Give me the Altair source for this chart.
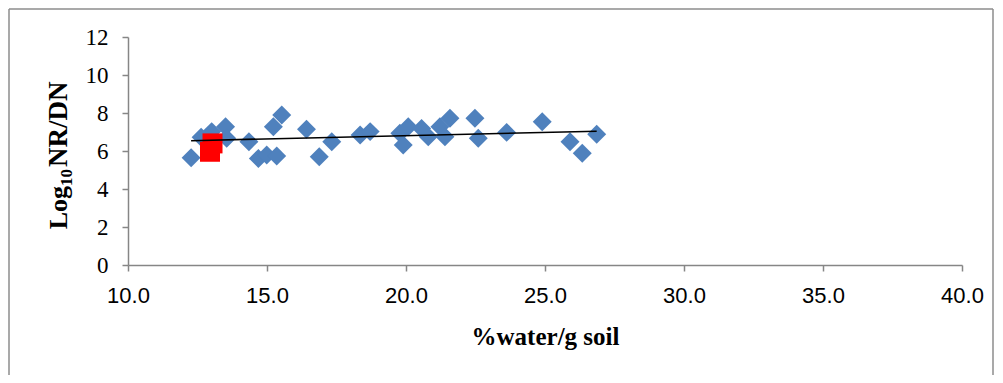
import altair as alt
import pandas as pd

# Blue series (diamonds)
blue_x = [12.27, 12.63, 13.01, 13.51, 13.55, 14.35, 14.69, 14.99, 15.23, 15.35, 15.53,
          16.42, 16.88, 17.33, 18.35, 18.71, 19.78, 19.90, 20.08, 20.56, 20.80, 21.22,
          21.40, 21.58, 22.48, 22.60, 23.62, 24.90, 25.90, 26.34, 26.86]
blue_y = [5.65, 6.72, 7.02, 7.28, 6.67, 6.49, 5.61, 5.79, 7.28, 5.74, 7.89,
          7.14, 5.70, 6.49, 6.84, 7.02, 6.93, 6.32, 7.28, 7.19, 6.75, 7.28,
          6.75, 7.72, 7.72, 6.67, 6.98, 7.54, 6.49, 5.88, 6.88]
# Red series (squares)
red_x = [13.04, 12.95]
red_y = [6.40, 5.96]

x_ticks = [10, 15, 20, 25, 30, 35, 40]
y_ticks = [0, 2, 4, 6, 8, 10, 12]

blue = pd.DataFrame({"x": blue_x, "y": blue_y})
red = pd.DataFrame({"x": red_x, "y": red_y})
one = pd.DataFrame({"k": [0]})

W, H = 834, 228
PL, PT, PR, PB = 120, 29, 33, 110
BOTTOM = H + PB  # bottom edge of the svg, in plot coordinates

xs = alt.Scale(domain=[10, 40], nice=False, zero=False)
ys = alt.Scale(domain=[0, 12], nice=False, zero=True)

x_axis = alt.Axis(values=x_ticks, format=".1f", grid=False, title="%water/g soil",
                  labelFont="Liberation Sans", labelFontSize=22, labelColor="#000000",
                  labelPadding=14, labelFlush=False, labelOverlap=False,
                  titleFont="Liberation Serif", titleFontSize=25,
                  titleFontWeight="bold", titleColor="#000000", titlePadding=18)
y_axis = alt.Axis(values=y_ticks, format="d", grid=False, title=None,
                  labelFont="Liberation Serif", labelFontSize=23, labelColor="#000000",
                  labelPadding=14, labelFlush=False, labelOverlap=False,
                  labelSeparation=0, labelBound=False)

bcol = "#8c8c8c"
b_left = alt.Chart(one).mark_rule(color=bcol, strokeWidth=1.5).encode(
    x=alt.value(-119), y=alt.value(-28), y2=alt.value(BOTTOM))
b_top = alt.Chart(one).mark_rule(color=bcol, strokeWidth=1.5).encode(
    x=alt.value(-119), x2=alt.value(W + PR - 2), y=alt.value(-28))
b_right = alt.Chart(one).mark_rule(color=bcol, strokeWidth=1.5).encode(
    x=alt.value(W + PR - 2), y=alt.value(-28), y2=alt.value(BOTTOM))

pts_blue = alt.Chart(blue).mark_point(shape="diamond", filled=True, size=360,
                                      color="#4F81BD", opacity=1).encode(
    x=alt.X("x:Q", scale=xs, axis=x_axis),
    y=alt.Y("y:Q", scale=ys, axis=y_axis))

pts_red = alt.Chart(red).mark_point(shape="square", filled=True, size=400,
                                    color="#FF0000", opacity=1).encode(
    x=alt.X("x:Q", scale=xs, axis=x_axis), y=alt.Y("y:Q", scale=ys, axis=y_axis))

trend = alt.Chart(blue).transform_regression("x", "y").mark_line(
    color="#000000", strokeWidth=1.6).encode(
    x=alt.X("x:Q", scale=xs, axis=x_axis), y=alt.Y("y:Q", scale=ys, axis=y_axis))

# y-axis title with subscript, in pieces
base_x = 67 - 128
t_log = alt.Chart(one).mark_text(text="Log", angle=270, align="right", baseline="alphabetic",
                                 font="Liberation Serif", fontSize=26, fontWeight="bold",
                                 color="#000000").encode(
    x=alt.value(base_x), y=alt.value(186 - 37))
t_sub = alt.Chart(one).mark_text(text="10", angle=270, align="left", baseline="alphabetic",
                                 font="Liberation Serif", fontSize=17, fontWeight="bold",
                                 color="#000000").encode(
    x=alt.value(base_x + 5), y=alt.value(186 - 37))
t_rest = alt.Chart(one).mark_text(text="NR/DN", angle=270, align="left", baseline="alphabetic",
                                  font="Liberation Serif", fontSize=27, fontWeight="bold",
                                  color="#000000").encode(
    x=alt.value(base_x), y=alt.value(167 - 37))

chart = alt.layer(b_left, b_top, b_right, pts_blue, pts_red, trend,
                  t_log, t_sub, t_rest).properties(
    width=W, height=H,
    autosize=alt.AutoSizeParams(type="none"),
    padding={"left": PL, "top": PT, "right": PR, "bottom": PB},
    background="#ffffff",
).configure_view(stroke=None).configure_axis(
    domainColor="#868686", tickColor="#868686", tickSize=6, domainWidth=1.5, tickWidth=1.5,
    labelOverlap=False
).configure_axisY(labelFont="Liberation Serif", labelFontSize=23
).configure_axisX(labelFont="Liberation Sans", labelFontSize=22)

chart.save("out.html", embed_options={"renderer": "svg", "actions": False})
